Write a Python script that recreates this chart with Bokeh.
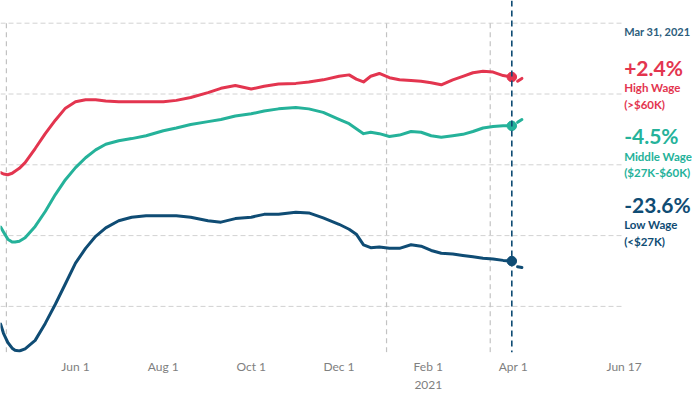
import pandas as pd
from bokeh.plotting import figure
from bokeh.models import Range1d, FixedTicker, Label, Span
from bokeh.embed import file_html
from bokeh.resources import INLINE

# ---------------- data (employment change vs. Jan 2020, %) ----------------
dates = ["2020-04-10", "2020-04-12", "2020-04-15", "2020-04-18", "2020-04-20", "2020-04-23",
         "2020-04-27", "2020-05-04", "2020-05-11",
         "2020-05-18", "2020-05-25", "2020-06-01", "2020-06-08", "2020-06-15", "2020-06-22",
         "2020-07-01", "2020-07-10", "2020-07-20", "2020-08-01", "2020-08-10", "2020-08-20",
         "2020-09-01", "2020-09-10", "2020-09-20", "2020-10-01", "2020-10-10", "2020-10-20",
         "2020-11-01", "2020-11-10", "2020-11-20", "2020-12-01", "2020-12-08", "2020-12-13",
         "2020-12-18", "2020-12-23", "2020-12-29", "2021-01-05", "2021-01-12", "2021-01-20",
         "2021-01-27", "2021-02-03", "2021-02-10", "2021-02-18", "2021-02-25", "2021-03-04",
         "2021-03-11", "2021-03-18", "2021-03-25", "2021-03-31"]

high_wage = [-11.1, -11.3, -11.4, -11.2, -10.9, -10.5, -9.7, -7.7, -5.6, -3.7, -2.0, -1.1,
             -0.8, -0.8, -1.0,
             -1.1, -1.1, -1.1, -1.1, -0.9, -0.5, 0.2, 0.8, 1.2, 0.7, 1.1, 1.4,
             1.5, 1.7, 2.0, 2.5, 2.7, 2.1, 1.7, 2.5, 2.9, 2.3, 2.0, 1.9,
             1.8, 1.6, 1.3, 2.0, 2.5, 3.0, 3.2, 3.1, 2.6, 2.4]
middle_wage = [-18.8, -19.5, -20.5, -20.9, -20.9, -20.8, -20.3, -18.7, -16.6, -14.2, -12.1,
               -10.4, -9.0, -7.9, -7.1,
               -6.6, -6.3, -5.9, -5.2, -4.8, -4.3, -3.9, -3.6, -3.1, -2.8, -2.4, -2.1,
               -1.9, -2.1, -2.6, -3.6, -4.2, -4.9, -5.6, -5.4, -5.6, -6.0, -5.8, -5.3,
               -5.4, -5.9, -6.1, -5.9, -5.7, -5.3, -4.8, -4.6, -4.5, -4.5]
low_wage = [-32.5, -33.8, -35.1, -35.9, -36.2, -36.3, -36.0, -34.8, -32.4, -29.7, -26.8,
            -23.9, -21.8, -20.1, -18.9,
            -17.9, -17.4, -17.2, -17.2, -17.2, -17.4, -17.9, -18.1, -17.6, -17.4, -17.0, -17.0,
            -16.7, -16.8, -17.5, -18.4, -19.1, -19.8, -21.3, -21.7, -21.6, -21.8, -21.8, -21.3,
            -21.5, -22.1, -22.5, -22.6, -22.8, -23.0, -23.2, -23.3, -23.5, -23.6]

tail_dates = ["2021-04-04", "2021-04-07"]
high_tail = [1.8, 2.2]
middle_tail = [-4.0, -3.6]
low_tail = [-24.4, -24.5]

grid_values = [10, 0, -10, -20, -30]
event_dates = ["2020-04-14", "2021-01-03", "2021-03-16"]
latest_date = "2021-03-31"

tick_dates = ["2020-06-01", "2020-08-01", "2020-10-01", "2020-12-01", "2021-02-01", "2021-04-01", "2021-06-17"]
tick_labels = ["Jun 1", "Aug 1", "Oct 1", "Dec 1", "Feb 1\n2021", "Apr 1", "Jun 17"]

series_names = ["High Wage", "Middle Wage", "Low Wage"]
series_ranges = ["(>$60K)", "($27K-$60K)", "(<$27K)"]

# ---------------- helpers ----------------
def ms(d):
    return pd.Timestamp(d).value / 1e6

DAY = 86400000.0
RED = "#e3354f"
TEAL = "#25b29a"
NAVY = "#0f4c74"
DATE_COL = "#2c5d7c"
FONT = "Lato"

FRAME_W, FRAME_H = 692, 352
PX_PER_DAY = 1.44
PX_PER_PCT = 7.08
x_start = ms("2020-06-01") - 75 / PX_PER_DAY * DAY
x_end = x_start + FRAME_W / PX_PER_DAY * DAY
y_top = 93.5 / PX_PER_PCT
y_bottom = y_top - FRAME_H / PX_PER_PCT

xs = [ms(d) for d in dates]
xt = [ms(d) for d in tail_dates]

p = figure(frame_width=FRAME_W, frame_height=FRAME_H, x_axis_type="datetime",
           y_axis_location=None, output_backend="svg", toolbar_location=None,
           x_range=Range1d(x_start, x_end), y_range=Range1d(y_bottom, y_top),
           min_border=0, min_border_left=0, min_border_right=0, min_border_top=0,
           outline_line_color=None, background_fill_color="white", border_fill_color="white")
p.xgrid.visible = False
p.ygrid.visible = False

# horizontal grid lines, stopping at the last tick
end_x = ms(tick_dates[-1])
p.segment(x0=[x_start] * len(grid_values), x1=[end_x] * len(grid_values),
          y0=grid_values, y1=grid_values, line_color="#d2d2d2", line_width=1, line_dash="5 3")
# event lines (vertical)
ev = [ms(d) for d in event_dates]
p.segment(x0=ev, x1=ev, y0=[grid_values[0]] * len(ev), y1=[y_bottom - 5] * len(ev),
          line_color="#c2c2c2", line_width=1.2, line_dash="5 4")
# latest date line
p.add_layout(Span(location=ms(latest_date), dimension="height", line_color=NAVY,
                  line_width=1.6, line_dash="6 4"))

for vals, tail, col in [(high_wage, high_tail, RED), (middle_wage, middle_tail, TEAL), (low_wage, low_tail, NAVY)]:
    p.line(xs, vals, line_color=col, line_width=3, line_join="round", line_cap="round")
    p.line(xt, tail, line_color=col, line_width=3, line_cap="round")
    p.scatter([xs[-1]], [vals[-1]], size=9.5, fill_color=col, line_color=col)

# x axis
p.xaxis.ticker = FixedTicker(ticks=[ms(d) for d in tick_dates])
p.xaxis.major_label_overrides = {int(ms(d)): lab for d, lab in zip(tick_dates, tick_labels)}
p.xaxis.axis_line_color = None
p.xaxis.major_tick_line_color = None
p.xaxis.minor_tick_line_color = None
p.xaxis.major_label_text_color = "#808080"
p.xaxis.major_label_text_font = FONT
p.xaxis.major_label_text_font_size = "12px"
p.xaxis.major_label_standoff = 0

# right-hand annotations
def py(page_y):
    return y_top - page_y / PX_PER_PCT

ann_x = end_x
p.add_layout(Label(x=ann_x, y=py(31), text="Mar 31, 2021", text_color=DATE_COL, text_font=FONT,
                   text_font_size="11px", text_font_style="bold", text_baseline="middle"))
rows = [(high_wage, RED, 67, 87, 104), (middle_wage, TEAL, 135, 156, 172), (low_wage, NAVY, 204, 224, 241)]
for (vals, col, y1, y2, y3), name, rng in zip(rows, series_names, series_ranges):
    p.add_layout(Label(x=ann_x, y=py(y1), text=f"{vals[-1]:+.1f}%", text_color=col, text_font=FONT,
                       text_font_size="21px", text_font_style="bold", text_baseline="middle"))
    p.add_layout(Label(x=ann_x, y=py(y2), text=name, text_color=col, text_font=FONT,
                       text_font_size="11.5px", text_font_style="bold", text_baseline="middle"))
    p.add_layout(Label(x=ann_x, y=py(y3), text=rng, text_color=col, text_font=FONT,
                       text_font_size="11.5px", text_font_style="bold", text_baseline="middle"))

open("out.html", "w").write(file_html(p, INLINE))
